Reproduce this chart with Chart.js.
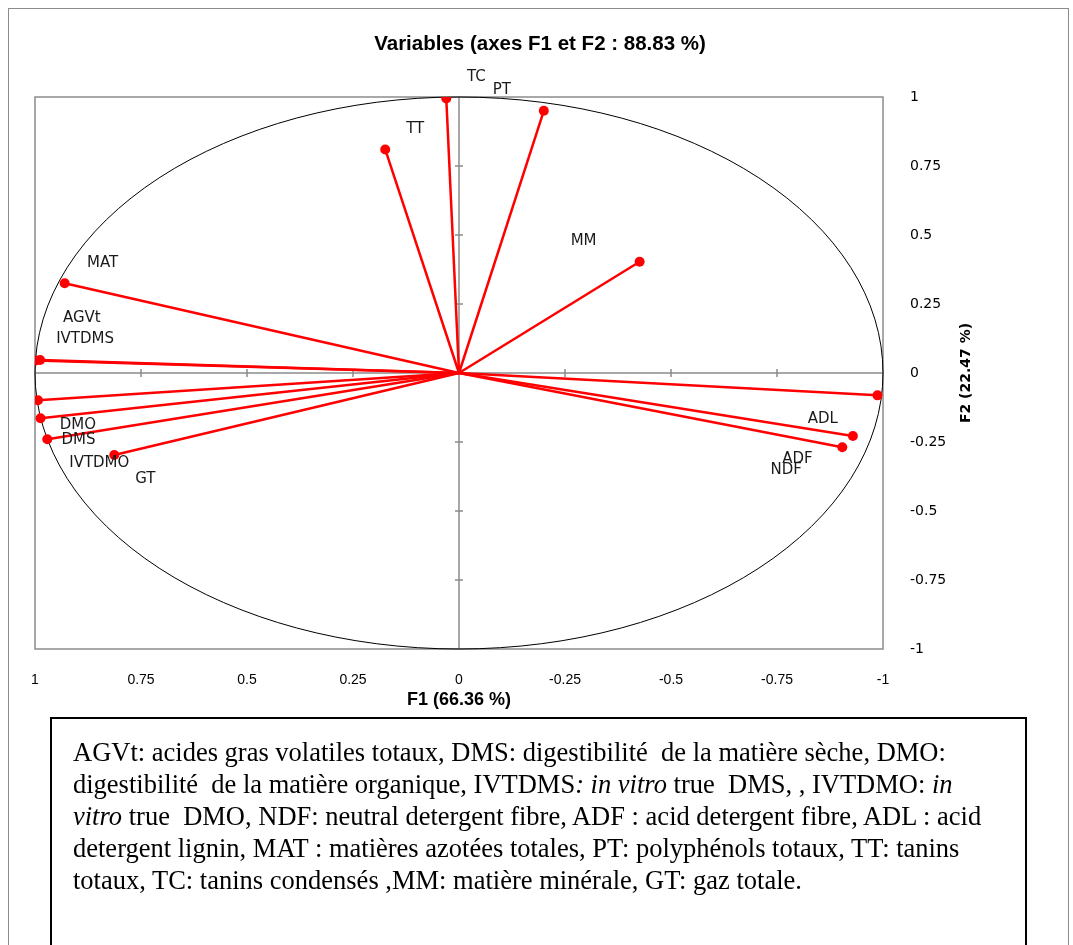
<!DOCTYPE html>
<html>
<head>
<meta charset="utf-8">
<script src="https://cdn.jsdelivr.net/npm/chart.js@4.4.0/dist/chart.umd.min.js"></script>
<style>
  html, body { margin: 0; padding: 0; background: #fff; overflow: hidden; }
  #page { position: relative; width: 1073px; height: 945px; }
  #frame { position: absolute; left: 8px; top: 8px; width: 1059px; height: 1000px; border: 1px solid #8c8c8c; }
  #pca { position: absolute; left: 0; top: 0; }
  #note {
    position: absolute; left: 50px; top: 717px; width: 952px; height: 260px;
    border: 2px solid #000; padding: 17px 0 0 21px;
    font-family: 'Liberation Serif', 'Times New Roman', serif; font-size: 26.5px; line-height: 32px;
    white-space: pre; color: #000;
  }
</style>
</head>
<body>
<div id="page">
  <div id="frame"></div>
  <canvas id="pca" width="1073" height="720"></canvas>
  <div id="note">AGVt: acides gras volatiles totaux, DMS: digestibilité  de la matière sèche, DMO:
digestibilité  de la matière organique, IVTDMS<i>: in vitro</i> true  DMS, , IVTDMO: <i>in</i>
<i>vitro</i> true  DMO, NDF: neutral detergent fibre, ADF : acid detergent fibre, ADL : acid
detergent lignin, MAT : matières azotées totales, PT: polyphénols totaux, TT: tanins
totaux, TC: tanins condensés ,MM: matière minérale, GT: gaz totale.</div>
</div>
<script>
'use strict';

// correlations of each variable with F1 and F2
const varNames = ['TC', 'PT', 'TT', 'MM', 'MAT', 'AGVt', 'IVTDMS', 'DMO', 'DMS', 'IVTDMO', 'GT', 'ADL', 'ADF', 'NDF'];
const f1Values = [0.030, -0.200, 0.174, -0.426, 0.930, 0.998, 0.988, 0.993, 0.987, 0.971, 0.813, -0.929, -0.987, -0.904];
const f2Values = [0.995, 0.950, 0.810, 0.403, 0.325, 0.045, 0.047, -0.099, -0.164, -0.240, -0.297, -0.228, -0.081, -0.269];
const axisTicks = [-1, -0.75, -0.5, -0.25, 0, 0.25, 0.5, 0.75, 1];

const chartTitle = 'Variables (axes F1 et F2 : 88.83 %)';
const xTitle = 'F1 (66.36 %)';
const yTitle = 'F2 (22.47 %)';

// where each name sits relative to its point (px)
const labelShift = [[30, -21], [-42, -21], [30, -20], [-56, -21], [38, -20], [46, -42], [45, -21],
  [40, 25], [38, 22], [52, 24], [31, 24], [-30, -17], [-80, 64], [-56, 23]];

const GREY = '#8c8c8c';
const RED = '#ff0000';

const datasets = varNames.map((name, i) => ({
  label: name,
  data: [{x: 0, y: 0}, {x: f1Values[i], y: f2Values[i]}],
  showLine: true,
  borderColor: RED,
  borderWidth: 2.5,
  pointRadius: ctx => ctx.dataIndex === 0 ? 0 : 5,
  pointBackgroundColor: RED,
  pointBorderWidth: 0
}));

function fmt(v) {
  return String(Math.round(v * 100) / 100);
}

// frame, axes through the origin and the unit circle
const backdrop = {
  id: 'backdrop',
  beforeDatasetsDraw(chart) {
    const {ctx, chartArea: a, scales: {x, y}} = chart;
    const x0 = x.getPixelForValue(0), y0 = y.getPixelForValue(0);
    ctx.save();
    ctx.strokeStyle = GREY;
    ctx.lineWidth = 1.5;
    ctx.strokeRect(a.left, a.top, a.right - a.left, a.bottom - a.top);
    ctx.beginPath();
    ctx.moveTo(a.left, y0); ctx.lineTo(a.right, y0);
    ctx.moveTo(x0, a.top); ctx.lineTo(x0, a.bottom);
    axisTicks.forEach(t => {
      if (t === 0 || Math.abs(t) === 1) return;
      const px = x.getPixelForValue(t), py = y.getPixelForValue(t);
      ctx.moveTo(px, y0 - 4); ctx.lineTo(px, y0 + 4);
      ctx.moveTo(x0 - 4, py); ctx.lineTo(x0 + 4, py);
    });
    ctx.stroke();

    ctx.strokeStyle = '#000';
    ctx.lineWidth = 1;
    ctx.beginPath();
    ctx.ellipse(x0, y0, Math.abs(x.getPixelForValue(1) - x0), Math.abs(y.getPixelForValue(1) - y0), 0, 0, Math.PI * 2);
    ctx.stroke();
    ctx.restore();
  },
  afterDatasetsDraw(chart) {
    const {ctx, scales: {y}} = chart;
    ctx.save();
    ctx.fillStyle = '#1a1a1a';
    ctx.font = '15px "DejaVu Sans"';
    ctx.textAlign = 'center';
    ctx.textBaseline = 'middle';
    varNames.forEach((name, i) => {
      const pt = chart.getDatasetMeta(i).data[1];
      ctx.fillText(name, pt.x + labelShift[i][0], pt.y + labelShift[i][1]);
    });

    ctx.fillStyle = '#000';
    ctx.font = 'bold 20.5px "Liberation Sans"';
    ctx.fillText(chartTitle, 540, 44);

    ctx.font = 'bold 14px "DejaVu Sans"';
    ctx.translate(966, y.getPixelForValue(0));
    ctx.rotate(-Math.PI / 2);
    ctx.fillText(yTitle, 0, 0);
    ctx.restore();
  }
};

new Chart(document.getElementById('pca'), {
  type: 'scatter',
  data: {datasets},
  options: {
    responsive: false,
    animation: false,
    layout: {padding: {left: 35, top: 97, right: 90, bottom: 9}},
    plugins: {legend: {display: false}, tooltip: {enabled: false}},
    scales: {
      x: {
        type: 'linear', position: 'bottom', reverse: true,
        min: -1, max: 1,
        afterBuildTicks: s => { s.ticks = axisTicks.map(v => ({value: v})); },
        afterFit: s => { s.height = 62; },
        grid: {display: false},
        border: {display: false},
        ticks: {autoSkip: false, maxRotation: 0, padding: 15, color: '#000',
          font: {family: 'Liberation Sans', size: 14}, callback: fmt},
        title: {display: true, text: xTitle, color: '#000', padding: {top: 0, bottom: 0},
          font: {family: 'Liberation Sans', size: 18, weight: 'bold'}}
      },
      y: {
        type: 'linear', position: 'right',
        min: -1, max: 1,
        afterBuildTicks: s => { s.ticks = axisTicks.map(v => ({value: v})); },
        afterFit: s => { s.width = 100; },
        grid: {display: false},
        border: {display: false},
        ticks: {autoSkip: false, padding: 19, color: '#000',
          font: {family: 'DejaVu Sans', size: 14}, callback: fmt}
      }
    }
  },
  plugins: [backdrop]
});
</script>
</body>
</html>
